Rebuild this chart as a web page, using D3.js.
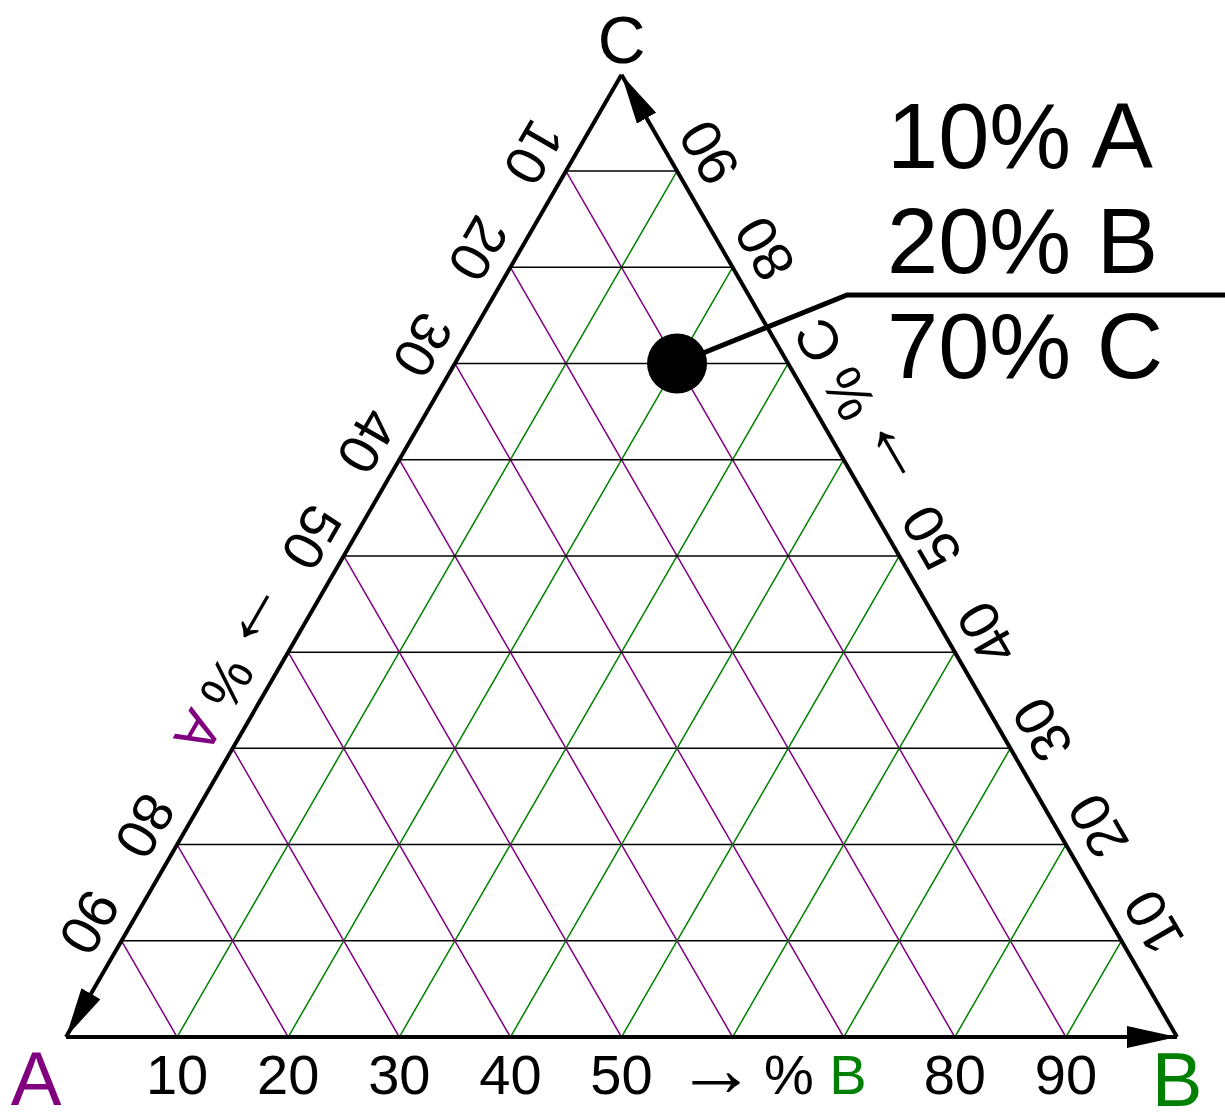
<!DOCTYPE html>
<meta charset="utf-8">
<style>
body { margin: 0; background: #fff; }
.grid { fill: none; stroke-width: 1.5px; }
.edge { stroke: #000; stroke-width: 4px; }
.tick { font-family: "Liberation Sans Narrow", "Liberation Sans", Arial, sans-serif; font-size: 56px; fill: #000; }
.arr { font-family: "Liberation Sans", Arial, sans-serif; font-size: 80px; }
.big { font-family: "Liberation Sans", Arial, sans-serif; }
</style>
<body>
<script src="https://d3js.org/d3.v7.min.js"></script>
<script>

// ternary data (percentages)
var components = ["A", "B", "C"];
var compColor = {A: "#800080", B: "#008000", C: "#000000"};
var gridValues = [10, 20, 30, 40, 50, 60, 70, 80, 90];
var tickValues = [10, 20, 30, 40, 50, 80, 90];
var titlePos = 63.5;           // where "→ % X" sits instead of 60 / 70
var point = {A: 10, B: 20, C: 70};

var width = 1225, height = 1115;
var side = 1111;

// B + C/2 across, C up
var x = d3.scaleLinear().domain([0, 100]).range([66, 66 + side]);
var y = d3.scaleLinear().domain([0, 100]).range([1037, 1037 - side * Math.sqrt(3) / 2]);

function px(a, b, c) { return [x(b + c / 2), y(c)]; }

var svg = d3.select("body").append("svg")
    .attr("width", width)
    .attr("height", height);

svg.append("defs").append("marker")
    .attr("id", "arrow")
    .attr("viewBox", "0 0 50 22")
    .attr("refX", 50).attr("refY", 11)
    .attr("markerWidth", 50).attr("markerHeight", 22)
    .attr("markerUnits", "userSpaceOnUse")
    .attr("orient", "auto")
  .append("path")
    .attr("d", "M0,0L50,11L0,22Z")
    .attr("fill", "#000");

// grid lines
var g = svg.append("g");
gridValues.forEach(function(v) {
  // constant C (horizontal, black)
  var p1 = px(100 - v, 0, v), p2 = px(0, 100 - v, v);
  g.append("line").attr("class", "grid").attr("stroke", "#000")
    .attr("x1", p1[0]).attr("y1", p1[1]).attr("x2", p2[0]).attr("y2", p2[1]);
  // constant A (purple)
  p1 = px(v, 100 - v, 0); p2 = px(v, 0, 100 - v);
  g.append("line").attr("class", "grid").attr("stroke", compColor.A)
    .attr("x1", p1[0]).attr("y1", p1[1]).attr("x2", p2[0]).attr("y2", p2[1]);
  // constant B (green)
  p1 = px(100 - v, v, 0); p2 = px(0, v, 100 - v);
  g.append("line").attr("class", "grid").attr("stroke", compColor.B)
    .attr("x1", p1[0]).attr("y1", p1[1]).attr("x2", p2[0]).attr("y2", p2[1]);
});

// edges with arrows: C->A, A->B, B->C
var vA = px(100, 0, 0), vB = px(0, 100, 0), vC = px(0, 0, 100);
[[vC, vA], [vA, vB], [vB, vC]].forEach(function(e) {
  svg.append("line").attr("class", "edge")
    .attr("x1", e[0][0]).attr("y1", e[0][1])
    .attr("x2", e[1][0]).attr("y2", e[1][1])
    .attr("marker-end", "url(#arrow)");
});

// tick labels
var off = 37;
var s3 = Math.sqrt(3) / 2;
function sideLabel(pos, angle, dx, dy) {
  return svg.append("text").attr("class", "tick")
    .attr("text-anchor", "middle")
    .attr("dominant-baseline", "central")
    .attr("transform", "translate(" + (pos[0] + dx) + "," + (pos[1] + dy) + ") rotate(" + angle + ")");
}
// bottom: %B
tickValues.forEach(function(v) {
  sideLabel(px(100 - v, v, 0), 0, 0, off).text(v);
});
// left: %A
tickValues.forEach(function(v) {
  sideLabel(px(v, 0, 100 - v), 120, -off * s3, -off / 2).text(v);
});
// right: %C
tickValues.forEach(function(v) {
  sideLabel(px(0, 100 - v, v), 240, off * s3, -off / 2).text(v);
});

function title(t, comp) {
  t.append("tspan").attr("class", "arr").attr("dy", -6).text("\u2192");
  t.append("tspan").attr("dy", 6).attr("dx", -8).text(" % ");
  t.append("tspan").style("fill", compColor[comp]).text(comp);
}
title(sideLabel(px(100 - titlePos, titlePos, 0), 0, 0, off), "B");
title(sideLabel(px(titlePos, 0, 100 - titlePos), 120, -off * s3, -off / 2), "A");
title(sideLabel(px(0, 100 - titlePos, titlePos), 240, off * s3, -off / 2), "C");

// corner letters
svg.append("text").attr("class", "big").attr("x", vA[0] - 30).attr("y", 1105)
  .attr("text-anchor", "middle").attr("font-size", 76).style("fill", compColor.A).text("A");
svg.append("text").attr("class", "big").attr("x", vB[0]).attr("y", 1106)
  .attr("text-anchor", "middle").attr("font-size", 76).style("fill", compColor.B).text("B");
svg.append("text").attr("class", "big").attr("x", vC[0]).attr("y", 63)
  .attr("text-anchor", "middle").attr("font-size", 66).style("fill", compColor.C).text("C");

// the marked point and its callout
var pp = px(point.A, point.B, point.C);
svg.append("polyline")
    .attr("points", [pp, [pp[0] + 170, 295], [width, 295]].map(function(d) { return d.join(","); }).join(" "))
    .attr("fill", "none").attr("stroke", "#000").attr("stroke-width", 5);
svg.append("circle").attr("cx", pp[0]).attr("cy", pp[1]).attr("r", 30).attr("fill", "#000");

components.forEach(function(k, i) {
  svg.append("text").attr("class", "big")
    .attr("x", 887).attr("y", 168 + i * 105)
    .attr("font-size", 92)
    .style("fill", "#000")
    .text(point[k] + "% " + k);
});

</script>
</body>
